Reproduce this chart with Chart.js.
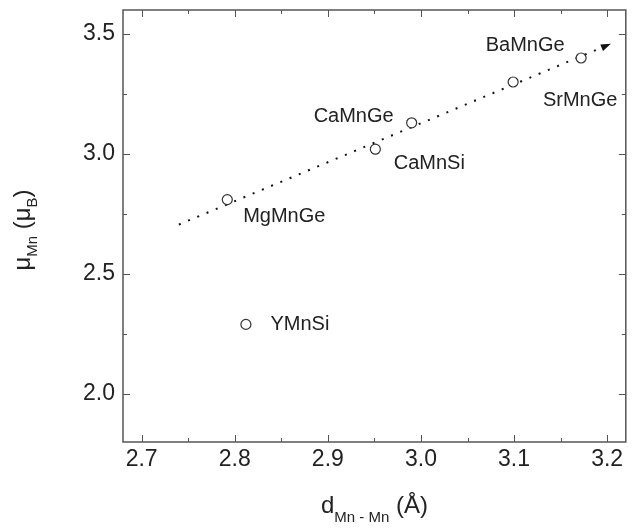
<!DOCTYPE html>
<html>
<head>
<meta charset="utf-8">
<script src="https://cdn.jsdelivr.net/npm/chart.js@4.4.1/dist/chart.umd.min.js"></script>
<style>
  html, body { margin: 0; padding: 0; background: #fff; }
  canvas { display: block; }
</style>
</head>
<body>
<canvas id="chart" width="632" height="528"></canvas>
<script>
// Compounds and measured values
const compounds = ['MgMnGe', 'YMnSi', 'CaMnSi', 'CaMnGe', 'BaMnGe', 'SrMnGe'];
const dMnMn = [2.792, 2.812, 2.951, 2.990, 3.099, 3.172];
const muMn = [2.81, 2.29, 3.02, 3.13, 3.30, 3.40];

// Trend line (dotted, with arrow at the end)
const trendX = [2.74, 3.202];
const trendY = [2.706, 3.456];

// Axis ticks
const xTicks = [2.7, 2.8, 2.9, 3.0, 3.1, 3.2];
const yTicks = [2.0, 2.5, 3.0, 3.5];

// label offsets from each point, in px (layout only)
const labelOffsets = [[57, 17], [54, 0], [54, 14], [-58, -6], [12, -37], [-1, 42]];

const FONT = "'Liberation Sans', Arial, sans-serif";
const INK = '#222';
const AXIS = '#555';

const midpoints = (arr) => arr.slice(1).map((v, i) => (v + arr[i]) / 2);

const framePlugin = {
  id: 'frame',
  afterDraw(chart) {
    const { ctx, chartArea: a, scales } = chart;
    const xs = scales.x, ys = scales.y;
    ctx.save();

    // frame
    ctx.strokeStyle = AXIS;
    ctx.lineWidth = 1.5;
    ctx.strokeRect(a.left, a.top, a.right - a.left, a.bottom - a.top);

    // inward ticks on all four sides
    ctx.lineWidth = 1;
    const xMinor = midpoints(xTicks).concat([xTicks[0] - 0.05, xTicks[xTicks.length - 1] + 0.05]);
    const yMinor = midpoints(yTicks).concat([yTicks[0] - 0.25, yTicks[yTicks.length - 1] + 0.25]);
    const tickX = (v, len) => {
      if (v < xs.min || v > xs.max) return;
      const p = Math.round(xs.getPixelForValue(v)) + 0.5;
      ctx.beginPath();
      ctx.moveTo(p, a.bottom); ctx.lineTo(p, a.bottom - len);
      ctx.moveTo(p, a.top); ctx.lineTo(p, a.top + len);
      ctx.stroke();
    };
    const tickY = (v, len) => {
      if (v < ys.min || v > ys.max) return;
      const p = Math.round(ys.getPixelForValue(v)) + 0.5;
      ctx.beginPath();
      ctx.moveTo(a.left, p); ctx.lineTo(a.left + len, p);
      ctx.moveTo(a.right, p); ctx.lineTo(a.right - len, p);
      ctx.stroke();
    };
    xTicks.forEach(v => tickX(v, 7));
    xMinor.forEach(v => tickX(v, 4));
    yTicks.forEach(v => tickY(v, 7));
    yMinor.forEach(v => tickY(v, 4));

    // arrow head at end of the trend line
    const x0 = xs.getPixelForValue(trendX[0]), y0 = ys.getPixelForValue(trendY[0]);
    const x1 = xs.getPixelForValue(trendX[1]), y1 = ys.getPixelForValue(trendY[1]);
    const ang = Math.atan2(y1 - y0, x1 - x0);
    ctx.fillStyle = '#111';
    ctx.translate(x1, y1);
    ctx.rotate(ang);
    ctx.beginPath();
    ctx.moveTo(2, 0);
    ctx.lineTo(-8, -3.5);
    ctx.lineTo(-8, 3.5);
    ctx.closePath();
    ctx.fill();
    ctx.setTransform(1, 0, 0, 1, 0, 0);

    // compound labels
    ctx.fillStyle = INK;
    ctx.font = `20px ${FONT}`;
    ctx.textAlign = 'center';
    ctx.textBaseline = 'middle';
    compounds.forEach((name, i) => {
      const px = xs.getPixelForValue(dMnMn[i]) + labelOffsets[i][0];
      const py = ys.getPixelForValue(muMn[i]) + labelOffsets[i][1];
      ctx.fillText(name, px, py);
    });

    // axis titles with subscripts
    const drawParts = (parts, cx, baseline) => {
      let total = 0;
      parts.forEach(p => { ctx.font = `${p.size}px ${FONT}`; p.w = ctx.measureText(p.text).width; total += p.w; });
      let x = cx - total / 2;
      ctx.textAlign = 'left';
      ctx.textBaseline = 'alphabetic';
      parts.forEach(p => {
        ctx.font = `${p.size}px ${FONT}`;
        ctx.fillText(p.text, x, baseline + p.dy);
        x += p.w;
      });
    };

    drawParts([
      { text: 'd', size: 24, dy: 0 },
      { text: 'Mn - Mn', size: 15, dy: 9 },
      { text: ' (Å)', size: 24, dy: 0 }
    ], (a.left + a.right) / 2, 513);

    ctx.save();
    ctx.translate(30, 230);
    ctx.rotate(-Math.PI / 2);
    drawParts([
      { text: 'μ', size: 24, dy: 0 },
      { text: 'Mn', size: 15, dy: 7 },
      { text: ' (μ', size: 24, dy: 0 },
      { text: 'B', size: 15, dy: 7 },
      { text: ')', size: 24, dy: 0 }
    ], 0, 0);
    ctx.restore();

    ctx.restore();
  }
};

new Chart(document.getElementById('chart'), {
  type: 'scatter',
  data: {
    datasets: [
      {
        label: 'compounds',
        data: dMnMn.map((x, i) => ({ x, y: muMn[i] })),
        showLine: false,
        pointRadius: 5,
        pointBorderWidth: 1.2,
        pointBorderColor: '#333',
        pointBackgroundColor: '#fff',
        order: 0
      },
      {
        label: 'trend',
        data: trendX.map((x, i) => ({ x, y: trendY[i] })),
        showLine: true,
        borderColor: '#111',
        borderWidth: 2,
        borderDash: [2, 8],
        pointRadius: 0,
        order: 1
      }
    ]
  },
  options: {
    responsive: false,
    animation: false,
    layout: { padding: { top: 10, right: 5, left: 0, bottom: 0 } },
    plugins: {
      legend: { display: false },
      tooltip: { enabled: false }
    },
    scales: {
      x: {
        type: 'linear',
        min: 2.68,
        max: 3.22,
        grid: { display: false, drawTicks: false },
        border: { display: false },
        afterBuildTicks: (scale) => { scale.ticks = xTicks.map(v => ({ value: v })); },
        afterFit: (scale) => {
          scale.height = 86;
          scale.paddingLeft = 0;
          scale.paddingRight = 0;
        },
        ticks: {
          autoSkip: false,
          maxRotation: 0,
          padding: 4,
          color: INK,
          font: { family: FONT, size: 23 },
          callback: (v) => Number(v).toFixed(1)
        }
      },
      y: {
        type: 'linear',
        min: 1.8,
        max: 3.6,
        grid: { display: false, drawTicks: false },
        border: { display: false },
        afterBuildTicks: (scale) => { scale.ticks = yTicks.map(v => ({ value: v })); },
        afterFit: (scale) => {
          scale.width = 123;
          scale.paddingTop = 0;
          scale.paddingBottom = 0;
        },
        ticks: {
          autoSkip: false,
          padding: 8,
          color: INK,
          font: { family: FONT, size: 23 },
          callback: (v) => Number(v).toFixed(1)
        }
      }
    }
  },
  plugins: [framePlugin]
});
</script>
</body>
</html>
